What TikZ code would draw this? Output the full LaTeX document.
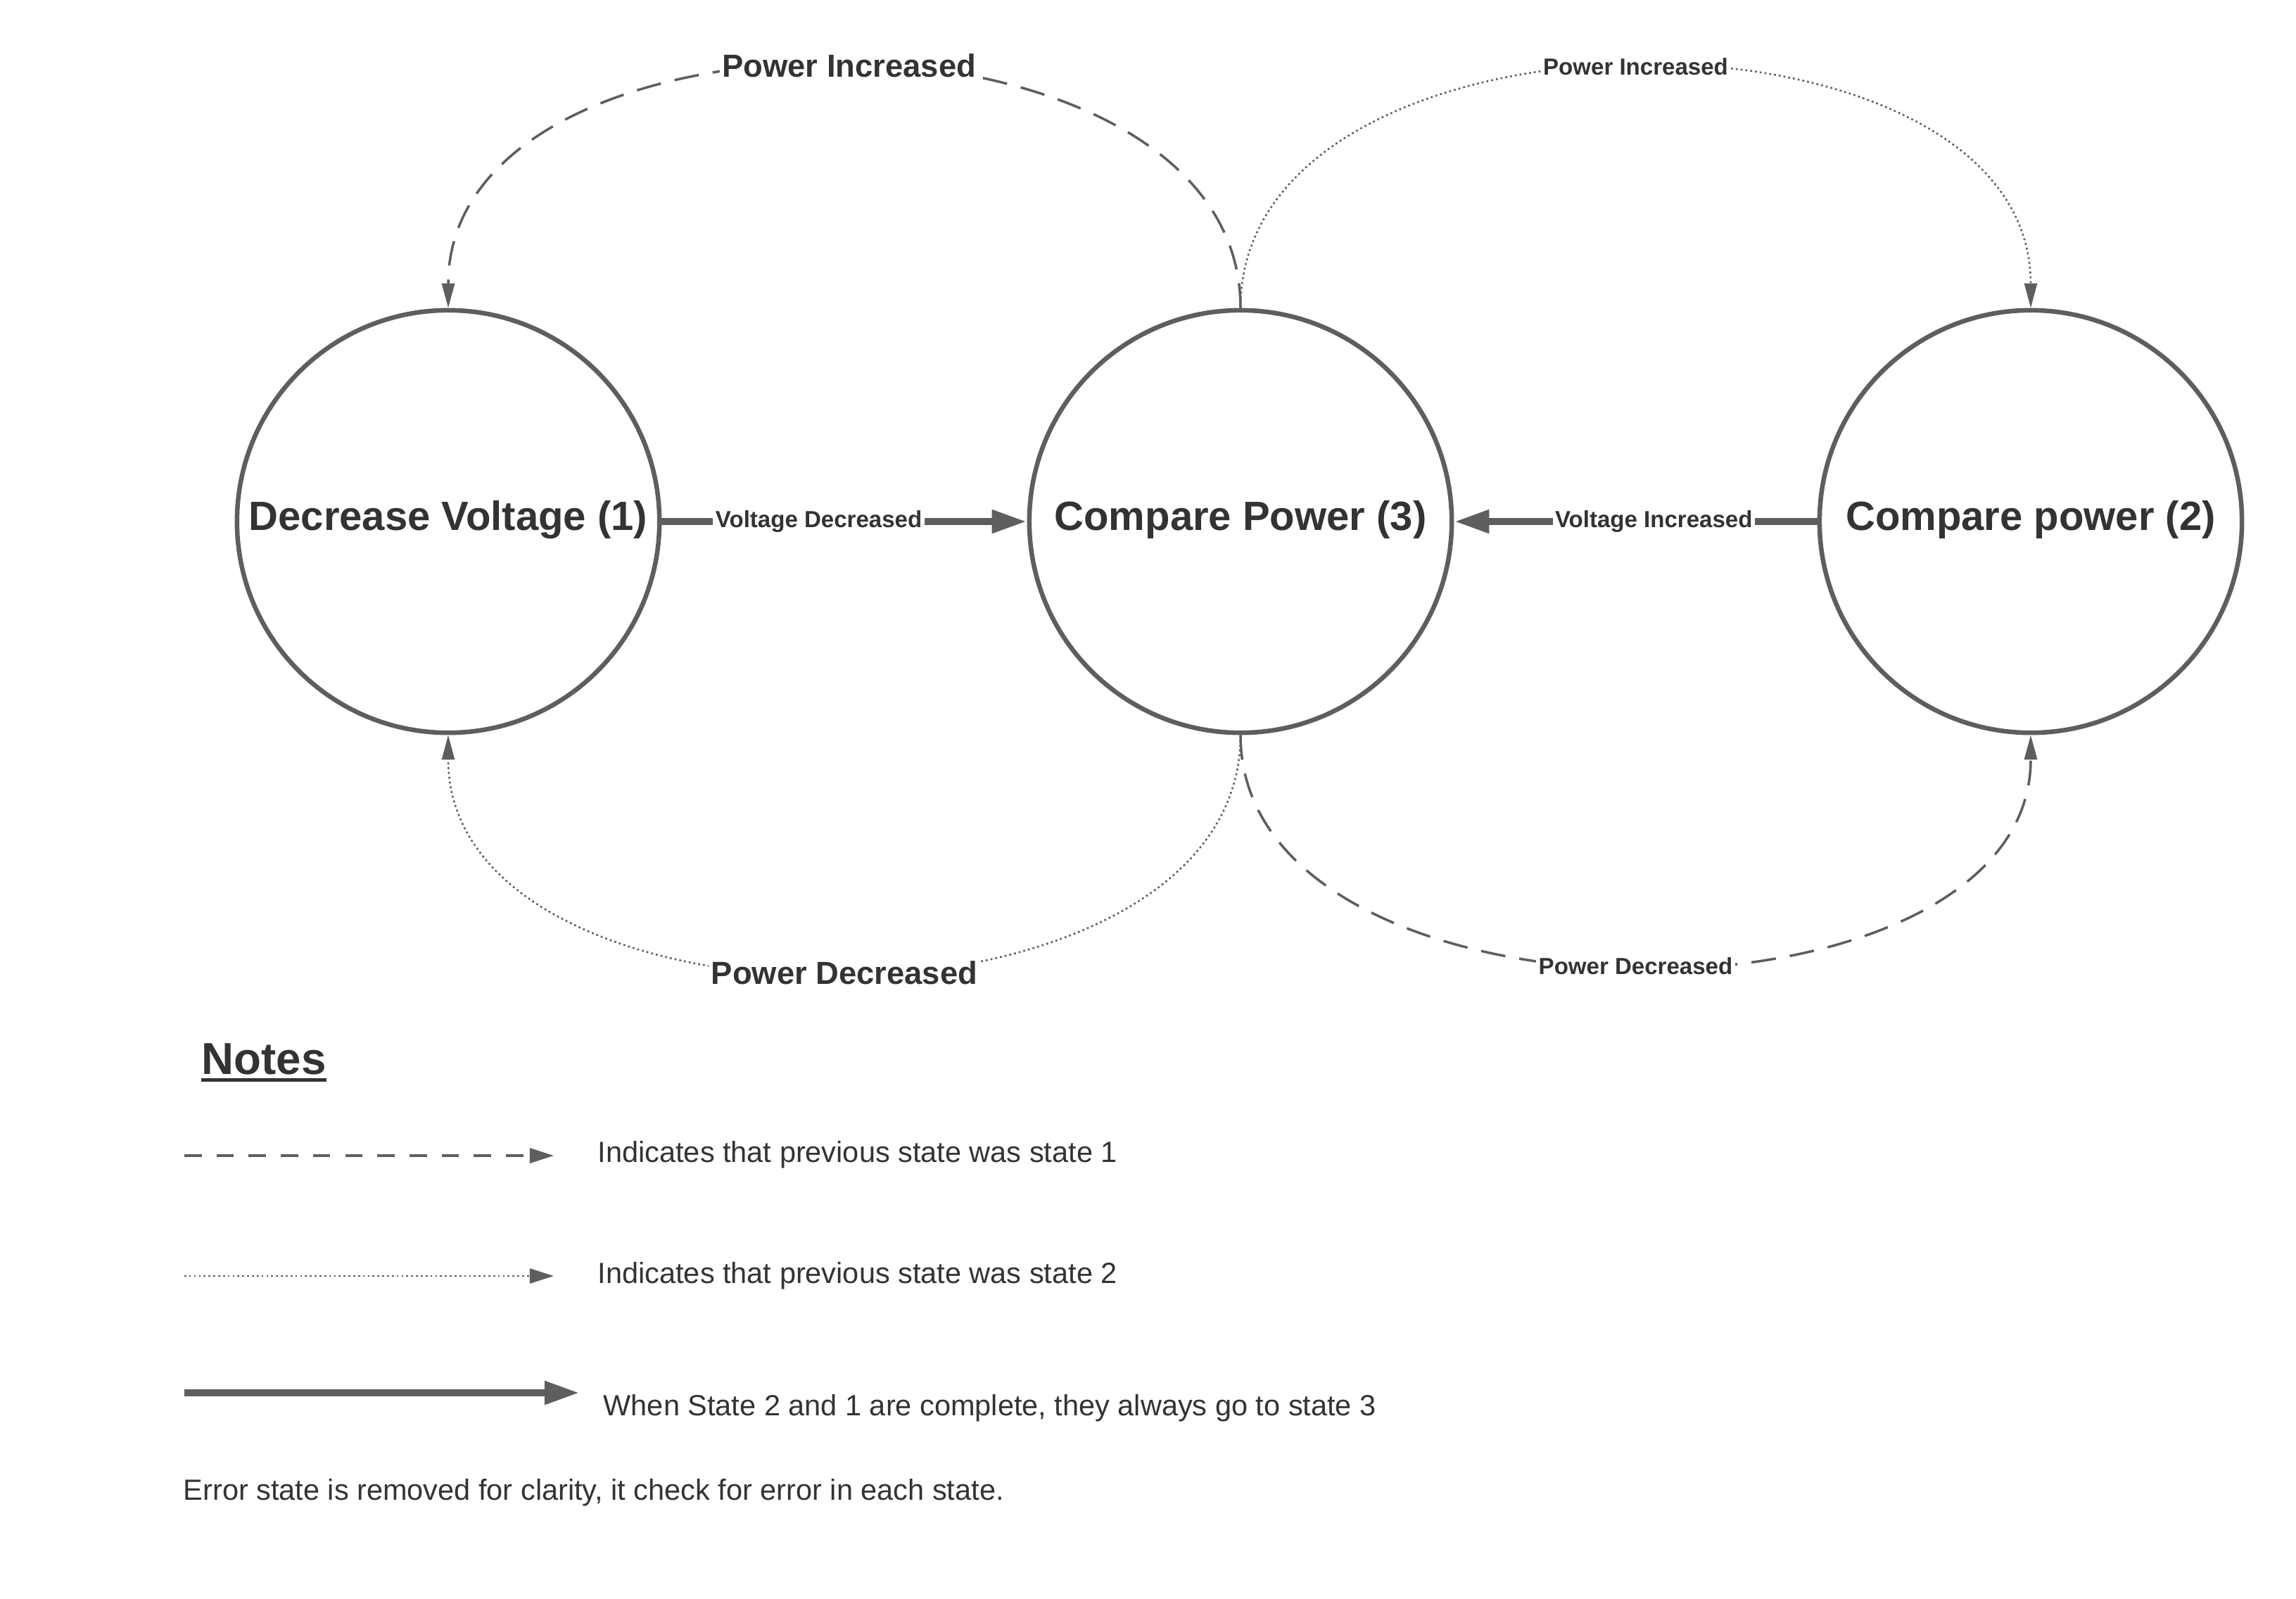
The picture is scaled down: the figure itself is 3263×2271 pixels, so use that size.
\documentclass[tikz,border=0pt]{standalone}
\usepackage{fontspec}
\setmainfont{Liberation Sans}
\usetikzlibrary{arrows.meta}
\definecolor{lc}{HTML}{5E5E5E}
\definecolor{tc}{HTML}{333333}
\begin{document}
\begin{tikzpicture}[x=0.01cm,y=-0.01cm,
  state/.style={circle,draw=lc,line width=1.85pt,minimum size=6cm,inner sep=0pt,text=tc,
    text height=12pt,text depth=4.8pt,
    font=\bfseries\fontsize{16.5}{19}\selectfont},
  thickarrow/.style={draw=lc,line width=3.1pt,-{Triangle[length=0.5cm,width=0.31cm]}},
  dashcurve/.style={draw=lc,line width=1pt,dash pattern=on 10pt off 5.7pt,-{Triangle[length=0.35cm,width=0.18cm]}},
  dotcurve/.style={draw=lc,line width=0.75pt,dash pattern=on 0.75pt off 1.2pt,-{Triangle[length=0.35cm,width=0.18cm]}},
  lblbig/.style={fill=white,inner sep=1pt,text=tc,font=\bfseries\fontsize{12.9}{15}\selectfont},
  lblsmall/.style={fill=white,inner sep=1pt,text=tc,font=\bfseries\fontsize{9.4}{11}\selectfont},
  legtext/.style={text=tc,inner sep=0pt,font=\fontsize{11.8}{14}\selectfont},
]
\useasboundingbox[fill=white] (0,0) rectangle (3263,2271);

% states
\node[state] (c1) at (637,741) {Decrease Voltage (1)};
\node[state] (c3) at (1763,741) {Compare Power (3)};
\node[state] (c2) at (2886,741) {Compare power (2)};

% straight transitions
\draw[thickarrow] (c1) -- node[lblsmall,pos=0.43] (vd) {Voltage Decreased} (c3);
\draw[thickarrow] (c2) -- node[lblsmall,pos=0.45] (vi) {Voltage Increased} (c3);

% curved transitions
\draw[dashcurve] (c3.north) .. controls +(0,-459) and +(0,-459) .. node[lblbig,pos=0.496] (pi1) {Power Increased} (c1.north);
\draw[dotcurve] (c3.north) .. controls +(0,-457) and +(0,-457) .. node[lblsmall] (pi2) {Power Increased} (c2.north);
\draw[dotcurve] (c3.south) .. controls +(0,451) and +(0,451) .. node[lblbig] (pd1) {Power Decreased} (c1.south);
\draw[dashcurve] (c3.south) .. controls +(0,438) and +(0,438) .. node[lblsmall] (pd2) {Power Decreased} (c2.south);

% notes
\node[anchor=base,inner sep=0pt,text=tc,font=\bfseries\fontsize{18.1}{21}\selectfont] (notes) at (375,1526) {Notes};
\draw[tc,line width=1.4pt] ([yshift=-2.3pt]notes.base west) -- ([yshift=-2.3pt]notes.base east);

\coordinate (l1a) at (262,1642); \coordinate (l1b) at (787,1642);
\draw[draw=lc,line width=1pt,dash pattern=on 7pt off 6pt,-{Triangle[length=0.34cm,width=0.21cm]}] (l1a) -- (l1b);
\node[legtext,anchor=base west] (t1) at (849,1651) {Indicates that previous state was state 1};

\coordinate (l2a) at (262,1813); \coordinate (l2b) at (787,1813);
\draw[draw=lc,line width=0.75pt,dash pattern=on 0.75pt off 1.2pt,-{Triangle[length=0.34cm,width=0.21cm]}] (l2a) -- (l2b);
\node[legtext,anchor=base west] (t2) at (849,1823) {Indicates that previous state was state 2};

\coordinate (l3a) at (262,1979); \coordinate (l3b) at (824,1979);
\draw[thickarrow] (l3a) -- (l3b);
\node[legtext,anchor=base west] (t3) at (857,2011) {When State 2 and 1 are complete, they always go to state 3};

\node[legtext,anchor=base west] (t4) at (260,2131) {Error state is removed for clarity, it check for error in each state.};
\end{tikzpicture}
\end{document}
